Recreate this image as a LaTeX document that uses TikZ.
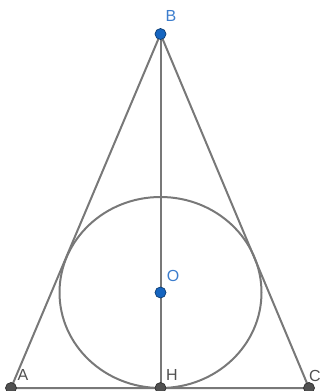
\documentclass[tikz,border=0pt]{standalone}
\usepackage{fontspec}
\setmainfont{Liberation Sans}
\definecolor{ptblue}{RGB}{21,101,192}
\definecolor{lblblue}{RGB}{60,125,205}
\definecolor{ptgray}{RGB}{80,80,80}
\definecolor{segray}{RGB}{120,120,120}
\begin{document}
\begin{tikzpicture}[x=1pt,y=-1pt,
seg/.style={draw=segray, line width=2pt},
bluept/.style={circle, fill=ptblue, draw=ptblue!60!black, line width=0.7pt, inner sep=0pt, minimum size=11pt},
graypt/.style={circle, fill=ptgray, draw=ptgray!60!black, line width=0.7pt, inner sep=0pt, minimum size=11pt},
bluelbl/.style={text=lblblue, font=\fontsize{16}{19}\selectfont, inner sep=0pt},
graylbl/.style={text=ptgray, font=\fontsize{16}{19}\selectfont, inner sep=0pt}
]
\useasboundingbox (0,0) rectangle (321,391);

\coordinate (A) at (11,388);
\coordinate (B) at (160.5,34);
\coordinate (C) at (309,388);
\coordinate (H) at (160.5,388);
\coordinate (O) at (160.5,292.5);

\draw[seg] (A) -- (B) -- (C) -- cycle;
\draw[seg] (B) -- (H);
\draw[seg] (O) ellipse [x radius=101pt, y radius=95.5pt];

\node[graypt] (ptA) at (A) {};
\node[bluept] (ptB) at (B) {};
\node[graypt] (ptC) at (C) {};
\node[graypt] (ptH) at (H) {};
\node[bluept] (ptO) at (O) {};

\node[graylbl] (lblA) at (23,375) {A};
\node[bluelbl] (lblB) at (171,16) {B};
\node[graylbl] (lblC) at (315,376) {C};
\node[graylbl] (lblH) at (172,375) {H};
\node[bluelbl] (lblO) at (173,276) {O};
\end{tikzpicture}
\end{document}
